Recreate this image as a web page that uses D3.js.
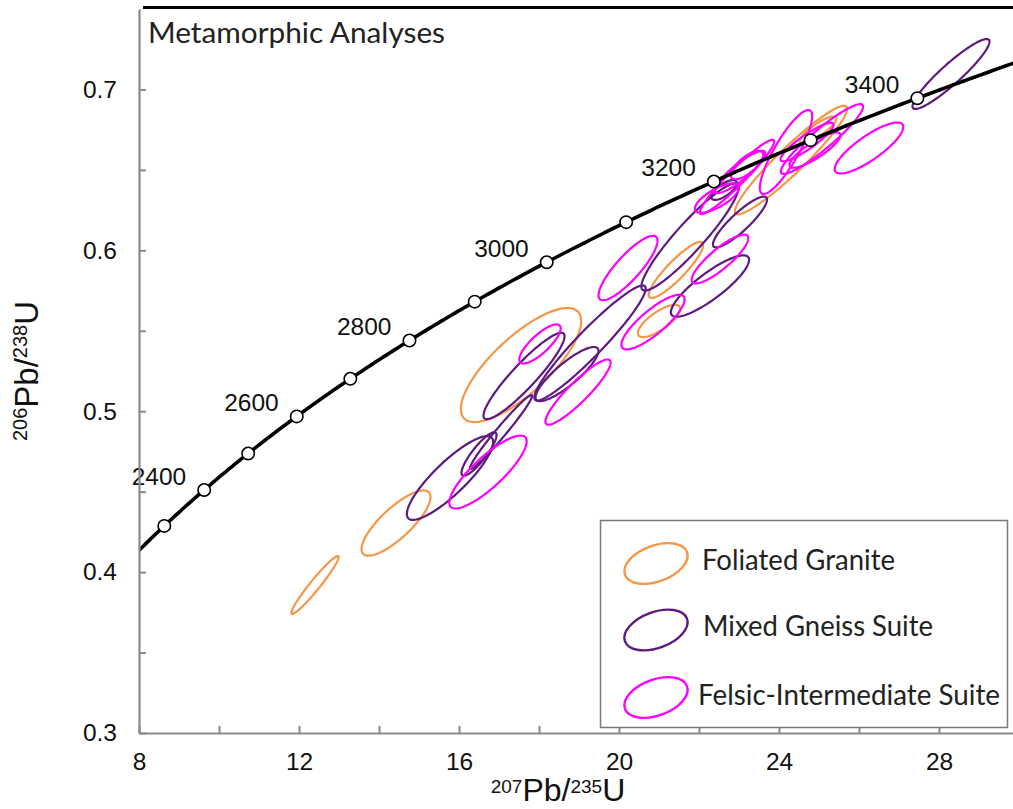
<!DOCTYPE html>
<html>
<head>
<meta charset="utf-8">
<script src="https://cdn.jsdelivr.net/npm/d3@7"></script>
<style>
  html, body { margin: 0; padding: 0; background: #fff; }
  svg { display: block; }
</style>
</head>
<body>
<script>
// U–Pb concordia diagram with 2σ error ellipses for the metamorphic analyses.

// Decay constants (per year) for 238U and 235U
const LAMBDA_238 = 1.55125e-10;
const LAMBDA_235 = 9.8485e-10;

// Concordia age markers (Ma) and the subset that carries a label
const markerAges = [2300, 2400, 2500, 2600, 2700, 2800, 2900, 3000, 3100, 3200, 3300, 3400];
const labelAges = [2400, 2600, 2800, 3000, 3200, 3400];

// Axis ticks
const xTickValues = [8, 10, 12, 14, 16, 18, 20, 22, 24, 26, 28];
const xTickLabels = [8, 12, 16, 20, 24, 28];
const yTickValues = [0.3, 0.35, 0.4, 0.45, 0.5, 0.55, 0.6, 0.65, 0.7];
const yTickLabels = [0.3, 0.4, 0.5, 0.6, 0.7];

// Analyses: [207Pb/235U, 206Pb/238U, 2σ(207/235), 2σ(206/238), rho]
const foliatedGranite = [
  [12.40, 0.3920, 0.590, 0.01798, 0.963],
  [14.425, 0.4305, 0.862, 0.02026, 0.799],
  [17.55, 0.5287, 1.504, 0.03543, 0.771],
  [21.425, 0.5878, 0.680, 0.01743, 0.894],
  [21.00, 0.5561, 0.528, 0.01002, 0.751],
  [24.30, 0.6561, 1.403, 0.03375, 0.945],
  [24.975, 0.6748, 0.459, 0.00842, 0.847]
];

const mixedGneiss = [
  [15.775, 0.4585, 1.079, 0.02604, 0.859],
  [16.50, 0.4734, 0.438, 0.01349, 0.868],
  [17.05, 0.4871, 0.777, 0.02294, 0.978],
  [17.625, 0.5219, 1.013, 0.02685, 0.918],
  [18.70, 0.5231, 0.786, 0.01682, 0.856],
  [19.275, 0.5424, 1.392, 0.03576, 0.947],
  [21.775, 0.6083, 1.216, 0.03331, 0.925],
  [22.275, 0.5778, 0.978, 0.01908, 0.854],
  [23.025, 0.6176, 0.676, 0.01580, 0.882],
  [28.30, 0.7096, 0.962, 0.02170, 0.925],
  [22.625, 0.6375, 0.319, 0.00616, 0.702]
];

const felsicIntermediate = [
  [18.025, 0.5418, 0.517, 0.01216, 0.799],
  [18.975, 0.5119, 0.815, 0.02026, 0.906],
  [16.725, 0.4622, 0.967, 0.02267, 0.840],
  [20.225, 0.5890, 0.737, 0.02003, 0.848],
  [20.85, 0.5554, 0.790, 0.01697, 0.831],
  [22.525, 0.5946, 0.708, 0.01515, 0.853],
  [22.45, 0.6325, 0.553, 0.00915, 0.723],
  [24.175, 0.6611, 0.654, 0.02610, 0.852],
  [25.075, 0.6692, 1.028, 0.02170, 0.929],
  [26.25, 0.6636, 0.857, 0.01584, 0.826],
  [22.95, 0.6456, 0.930, 0.02312, 0.954],
  [23.025, 0.6487, 0.634, 0.01310, 0.878],
  [24.70, 0.6673, 0.663, 0.01195, 0.898],
  [24.90, 0.6623, 0.638, 0.01098, 0.847],
  [23.20, 0.6530, 0.404, 0.00885, 0.719]
];

const groups = [
  { name: "Foliated Granite", color: "#F79646", data: foliatedGranite },
  { name: "Mixed Gneiss Suite", color: "#5F1A80", data: mixedGneiss },
  { name: "Felsic-Intermediate Suite", color: "#FF00FF", data: felsicIntermediate }
];

const W = 1013, H = 809;
const svg = d3.select("body").append("svg")
  .attr("width", W).attr("height", H)
  .attr("viewBox", `0 0 ${W} ${H}`);

const x = d3.scaleLinear().domain([8, 30]).range([139, 1019]);
const y = d3.scaleLinear().domain([0.3, 0.75]).range([733, 9]);

const AXIS_GREY = "#8a8a8a";
const NUM_FONT = "'Liberation Sans', Arial, sans-serif";
const TEXT_FONT = "Lato, 'Open Sans', sans-serif";
const NUM_SIZE = 24.5;

// plot-area clip
svg.append("defs").append("clipPath").attr("id", "plot-clip")
  .append("rect")
  .attr("x", x(8)).attr("y", y(0.75))
  .attr("width", x(30) - x(8)).attr("height", y(0.3) - y(0.75));

// ---- ellipses ----
function ellipsePoints(d, n = 120) {
  const [cx, cy, sx, sy, rho] = d;
  const k = Math.sqrt(1 - rho * rho);
  return d3.range(n).map(i => {
    const t = (i / n) * 2 * Math.PI;
    return [x(cx + sx * Math.cos(t)), y(cy + sy * (rho * Math.cos(t) + k * Math.sin(t)))];
  });
}
const closedLine = d3.line().curve(d3.curveLinearClosed);

const ellLayer = svg.append("g").attr("class", "ellipses");
groups.forEach(g => {
  ellLayer.append("g")
    .selectAll("path")
    .data(g.data)
    .join("path")
    .attr("d", d => closedLine(ellipsePoints(d)))
    .attr("fill", "none")
    .attr("stroke", g.color)
    .attr("stroke-width", 2.2);
});

// ---- concordia ----
const r238 = t => Math.exp(LAMBDA_238 * t * 1e6) - 1;
const r235 = t => Math.exp(LAMBDA_235 * t * 1e6) - 1;
const curveAges = d3.range(2150, 3520, 5);
svg.append("path")
  .attr("clip-path", "url(#plot-clip)")
  .attr("d", d3.line()(curveAges.map(t => [x(r235(t)), y(r238(t))])))
  .attr("fill", "none")
  .attr("stroke", "#000")
  .attr("stroke-width", 3.6);

svg.append("g").selectAll("circle")
  .data(markerAges)
  .join("circle")
  .attr("cx", t => x(r235(t)))
  .attr("cy", t => y(r238(t)))
  .attr("r", 6.2)
  .attr("fill", "#fff")
  .attr("stroke", "#000")
  .attr("stroke-width", 1.6);

svg.append("g").selectAll("text")
  .data(labelAges)
  .join("text")
  .attr("x", t => x(r235(t)) - 18)
  .attr("y", t => y(r238(t)) - 5)
  .attr("text-anchor", "end")
  .attr("font-family", NUM_FONT)
  .attr("font-size", NUM_SIZE)
  .attr("fill", "#111")
  .text(t => t);

// ---- axes ----
const xAxis = d3.axisBottom(x)
  .tickValues(xTickValues)
  .tickSizeInner(-7).tickSizeOuter(0).tickPadding(19.5)
  .tickFormat(d => xTickLabels.includes(d) ? d : "");
const gx = svg.append("g").attr("transform", `translate(0,${y(0.3)})`).call(xAxis);

const yAxis = d3.axisLeft(y)
  .tickValues(yTickValues)
  .tickSizeInner(-7).tickSizeOuter(0).tickPadding(22)
  .tickFormat(d => yTickLabels.some(v => Math.abs(v - d) < 1e-9) ? d3.format(".1f")(d) : "");
const gy = svg.append("g").attr("transform", `translate(${x(8)},0)`).call(yAxis);

[gx, gy].forEach(g => {
  g.select(".domain").attr("stroke", AXIS_GREY).attr("stroke-width", 2.2);
  g.selectAll(".tick line").attr("stroke", AXIS_GREY).attr("stroke-width", 2);
  g.selectAll(".tick text")
    .attr("font-family", NUM_FONT).attr("font-size", NUM_SIZE).attr("fill", "#111");
});

// top frame line
svg.append("line")
  .attr("x1", x(8) + 4).attr("x2", W)
  .attr("y1", y(0.75) - 1.5).attr("y2", y(0.75) - 1.5)
  .attr("stroke", "#000").attr("stroke-width", 3);

// ---- titles ----
svg.append("text")
  .attr("x", 148).attr("y", 43)
  .attr("font-family", TEXT_FONT).attr("font-size", 29).attr("fill", "#222")
  .attr("textLength", 297).attr("lengthAdjust", "spacingAndGlyphs")
  .text("Metamorphic Analyses");

const xt = svg.append("text")
  .attr("x", 558).attr("y", 801)
  .attr("text-anchor", "middle")
  .attr("font-family", NUM_FONT).attr("fill", "#111");
xt.append("tspan").attr("font-size", 19).attr("dy", -8).text("207");
xt.append("tspan").attr("font-size", 32).attr("dy", 8).text("Pb/");
xt.append("tspan").attr("font-size", 19).attr("dy", -8).text("235");
xt.append("tspan").attr("font-size", 32).attr("dy", 8).text("U");

const yt = svg.append("text")
  .attr("transform", "translate(38,371) rotate(-90)")
  .attr("text-anchor", "middle")
  .attr("font-family", NUM_FONT).attr("fill", "#111");
yt.append("tspan").attr("font-size", 20).attr("dy", -11).text("206");
yt.append("tspan").attr("font-size", 33).attr("dy", 11).text("Pb/");
yt.append("tspan").attr("font-size", 20).attr("dy", -11).text("238");
yt.append("tspan").attr("font-size", 33).attr("dy", 11).text("U");

// ---- legend ----
const legend = svg.append("g");
legend.append("rect")
  .attr("x", 600.5).attr("y", 520.5).attr("width", 407).attr("height", 207)
  .attr("fill", "#fff").attr("stroke", "#7a7a7a").attr("stroke-width", 1.5);

const legendRows = [
  { cy: 563.5, tx: 702, ty: 570, len: 193 },
  { cy: 630, tx: 703, ty: 636, len: 230 },
  { cy: 697.5, tx: 698, ty: 705, len: 302 }
];
groups.forEach((g, i) => {
  const r = legendRows[i];
  legend.append("ellipse")
    .attr("transform", `translate(656,${r.cy}) rotate(-20)`)
    .attr("rx", 33).attr("ry", 18)
    .attr("fill", "none").attr("stroke", g.color).attr("stroke-width", 2.4);
  legend.append("text")
    .attr("x", r.tx).attr("y", r.ty)
    .attr("font-family", TEXT_FONT).attr("font-size", 28).attr("fill", "#222")
    .attr("textLength", r.len).attr("lengthAdjust", "spacingAndGlyphs")
    .text(g.name);
});
</script>
</body>
</html>
